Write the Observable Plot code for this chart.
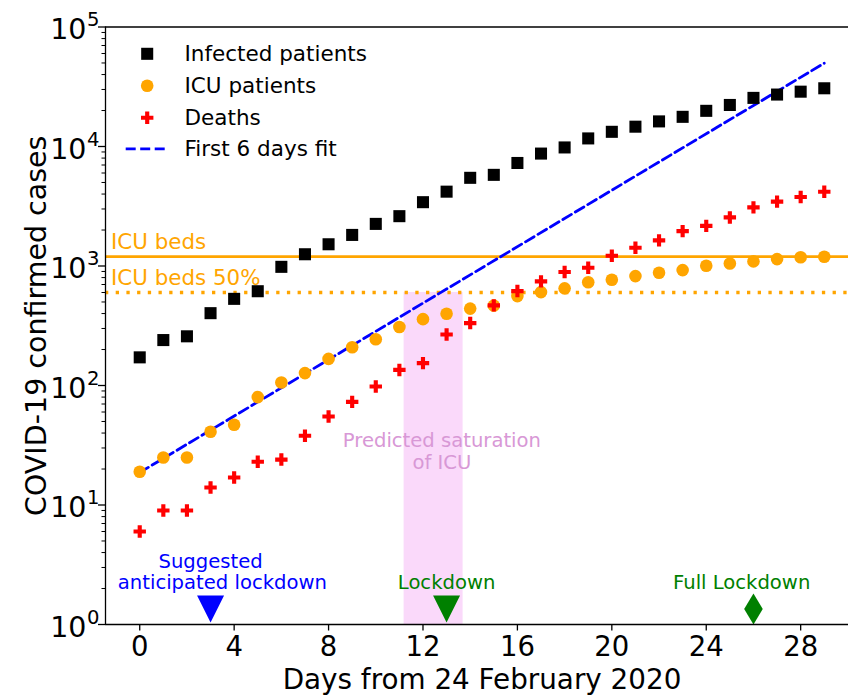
<!DOCTYPE html>
<html>
<head>
<meta charset="utf-8">
<script src="https://cdn.jsdelivr.net/npm/d3@7"></script>
<script src="https://cdn.jsdelivr.net/npm/@observablehq/plot@0.6"></script>
<style>
  html, body { margin: 0; padding: 0; background: #fff; }
  #chart svg { display: block; }
</style>
</head>
<body>
<div id="chart"></div>
<script>
// ---- data ----
const days = [0,1,2,3,4,5,6,7,8,9,10,11,12,13,14,15,16,17,18,19,20,21,22,23,24,25,26,27,28,29];
const infected = [172,240,258,403,531,615,984,1254,1520,1820,2251,2612,3420,4189,5469,5791,7280,8725,9820,11685,13272,14649,16220,17713,19884,22264,25515,27206,28761,30703];
const icuPatients = [19,25,25,41,47,80,106,127,167,209,244,309,359,399,440,466,560,605,650,732,767,823,879,924,1006,1050,1093,1142,1183,1194];
const deaths = [6,9,9,14,17,23,24,38,55,73,98,135,154,267,333,468,617,744,890,966,1218,1420,1640,1959,2168,2549,3095,3456,3776,4178];
const fitDays = [0, 29];
const fitValues = [18.7, 49800];
const icuBeds = 1200;
const icuBedsHalf = 600;
const saturationDays = [11.2, 13.7];
const eventDays = [3, 13, 26];
const eventLevel = 1.35;
const labelLevel = 2;
const xTicks = [0, 4, 8, 12, 16, 20, 24, 28];
const yDecades = [1, 10, 100, 1000, 10000, 100000];
const yExponents = ["0", "1", "2", "3", "4", "5"];
const minorMultipliers = [2, 3, 4, 5, 6, 7, 8, 9];
const legendLabels = ["Infected patients", "ICU patients", "Deaths", "First 6 days fit"];

// ---- derived tables ----
const rows = days.map((d, i) => ({day: d, infected: infected[i], icu: icuPatients[i], deaths: deaths[i]}));
const minorTicks = yDecades.slice(0, -1).flatMap(d => minorMultipliers.map(m => d * m));

// ---- custom symbols ----
const triangleDown = {draw(ctx, size) { const s = Math.sqrt(size / Math.PI); ctx.moveTo(0, s); ctx.lineTo(-s, -s); ctx.lineTo(s, -s); ctx.closePath(); }};
const thinDiamond = {draw(ctx, size) { const s = Math.sqrt(size / Math.PI); ctx.moveTo(0, -s); ctx.lineTo(0.6 * s, 0); ctx.lineTo(0, s); ctx.lineTo(-0.6 * s, 0); ctx.closePath(); }};
const filledPlus = {draw(ctx, size) { const a = Math.sqrt(size / Math.PI), t = a / 3;
  ctx.moveTo(-t, -a); ctx.lineTo(t, -a); ctx.lineTo(t, -t); ctx.lineTo(a, -t); ctx.lineTo(a, t); ctx.lineTo(t, t);
  ctx.lineTo(t, a); ctx.lineTo(-t, a); ctx.lineTo(-t, t); ctx.lineTo(-a, t); ctx.lineTo(-a, -t); ctx.lineTo(-t, -t); ctx.closePath(); }};
const dashSwatch = {draw(ctx) { ctx.moveTo(-21.5, 0); ctx.lineTo(21.5, 0); }};

const ORANGE = "#FFA500", RED = "#FF0000", BLUE = "#0000FF", GREEN = "#008000";
const annFont = 19.6, legFont = 21.5, bigFont = 28.5;

const legendRowDy = [26.8, 58.8, 90.8, 121.8];

const chart = Plot.plot({
  width: 848,
  height: 695,
  marginLeft: 105,
  marginRight: 0,
  marginTop: 26.5,
  marginBottom: 71,
  style: {fontFamily: "'DejaVu Sans', sans-serif", background: "#fff", color: "#000"},
  x: {domain: [-1.45, 30.45], range: [105, 858]},
  y: {type: "log", domain: [1, 100000]},
  marks: [
    // saturation band
    Plot.rect([0], {x1: saturationDays[0], x2: saturationDays[1], y1: 1, y2: icuBedsHalf, fill: "violet", fillOpacity: 0.3}),
    // ICU bed lines
    Plot.ruleY([icuBeds], {stroke: ORANGE, strokeWidth: 2.7}),
    Plot.ruleY([icuBedsHalf], {stroke: ORANGE, strokeWidth: 3.3, strokeDasharray: "3.3,7.4"}),
    // fit line
    Plot.line(fitDays, {x: d => d, y: (d, i) => fitValues[i], stroke: BLUE, strokeWidth: 2.8, strokeDasharray: "10,4.5"}),
    // data
    Plot.dot(rows, {x: "day", y: "infected", symbol: "square", r: 6.8, fill: "#000"}),
    Plot.dot(rows, {x: "day", y: "icu", symbol: "circle", r: 6.3, fill: ORANGE}),
    Plot.dot(rows, {x: "day", y: "deaths", symbol: filledPlus, r: 6.2, fill: RED}),
    // events
    Plot.dot([eventDays[0]], {x: d => d, y: eventLevel, symbol: triangleDown, r: 13.5, fill: BLUE}),
    Plot.dot([eventDays[1]], {x: d => d, y: eventLevel, symbol: triangleDown, r: 13.5, fill: GREEN}),
    Plot.dot([eventDays[2]], {x: d => d, y: eventLevel, symbol: thinDiamond, r: 15.5, fill: GREEN}),
    Plot.text(["Suggested"], {x: eventDays[0], y: labelLevel, text: d => d, dy: -21, lineAnchor: "bottom", fill: BLUE, fontSize: annFont}),
    Plot.text(["anticipated lockdown"], {x: eventDays[0] + 0.5, y: labelLevel, text: d => d, lineAnchor: "bottom", fill: BLUE, fontSize: annFont}),
    Plot.text(["Lockdown"], {x: eventDays[1], y: labelLevel, text: d => d, lineAnchor: "bottom", fill: GREEN, fontSize: annFont}),
    Plot.text(["Full Lockdown"], {x: eventDays[2] - 0.5, y: labelLevel, text: d => d, lineAnchor: "bottom", fill: GREEN, fontSize: annFont}),
    Plot.text(["Predicted saturation\nof ICU"], {x: 12.8, y: 20, text: d => d, lineAnchor: "bottom", lineHeight: 1.107, fill: "#d898d6", fontSize: annFont}),
    // ICU bed labels
    Plot.text([icuBeds], {y: d => d, frameAnchor: "left", textAnchor: "start", lineAnchor: "bottom", dx: 5.5, dy: -7.5, text: () => "ICU beds", fill: ORANGE, fontSize: 21.4}),
    Plot.text([icuBedsHalf], {y: d => d, frameAnchor: "left", textAnchor: "start", lineAnchor: "bottom", dx: 5.5, dy: -8, text: () => "ICU beds 50%", fill: ORANGE, fontSize: 21.4}),
    // axes
    Plot.axisX({ticks: xTicks, tickSize: 6.5, tickPadding: 5.5, fontSize: 27.5, strokeWidth: 1.3, label: null, tickFormat: d => String(d)}),
    Plot.axisY({ticks: yDecades, tickSize: 7, strokeWidth: 1.3, label: null, tickFormat: () => ""}),
    Plot.axisY({ticks: minorTicks, tickSize: 3.5, strokeWidth: 1, label: null, tickFormat: () => ""}),
    Plot.text(yDecades, {y: d => d, text: () => "10", frameAnchor: "left", textAnchor: "end", lineAnchor: "bottom", dx: -19, dy: 12, fontSize: bigFont}),
    Plot.text(yDecades, {y: d => d, text: (d, i) => yExponents[i], frameAnchor: "left", textAnchor: "start", lineAnchor: "bottom", dx: -18.5, dy: -0.6, fontSize: 19.6}),
    Plot.text(["COVID-19 confirmed cases"], {text: d => d, frameAnchor: "left", textAnchor: "middle", lineAnchor: "bottom", rotate: -90, dx: -60, fontSize: bigFont}),
    Plot.text(["Days from 24 February 2020"], {text: d => d, frameAnchor: "bottom", textAnchor: "middle", lineAnchor: "bottom", dx: 5, dy: 64, fontSize: 27.8}),
    // spines
    Plot.ruleX([-1.45], {stroke: "#000", strokeWidth: 1.3}),
    Plot.ruleY([1, 100000], {stroke: "#000", strokeWidth: 1.3}),
    // legend
    Plot.dot([legendLabels[0]], {frameAnchor: "top-left", dx: 41.7, dy: legendRowDy[0], symbol: "square", r: 6.8, fill: "#000"}),
    Plot.dot([legendLabels[1]], {frameAnchor: "top-left", dx: 41.7, dy: legendRowDy[1], symbol: "circle", r: 6.3, fill: ORANGE}),
    Plot.dot([legendLabels[2]], {frameAnchor: "top-left", dx: 41.7, dy: legendRowDy[2], symbol: filledPlus, r: 6.2, fill: RED}),
    Plot.dot([legendLabels[3]], {frameAnchor: "top-left", dx: 41.7, dy: legendRowDy[3], symbol: dashSwatch, r: 5, fill: "none", stroke: BLUE, strokeWidth: 2.8, strokeDasharray: "10,4.5"}),
    ...legendLabels.map((lab, i) => Plot.text([lab], {text: d => d, frameAnchor: "top-left", textAnchor: "start", lineAnchor: "middle", dx: 79, dy: legendRowDy[i] + 0.7, fontSize: legFont}))
  ]
});
document.getElementById("chart").appendChild(chart);
</script>
</body>
</html>
